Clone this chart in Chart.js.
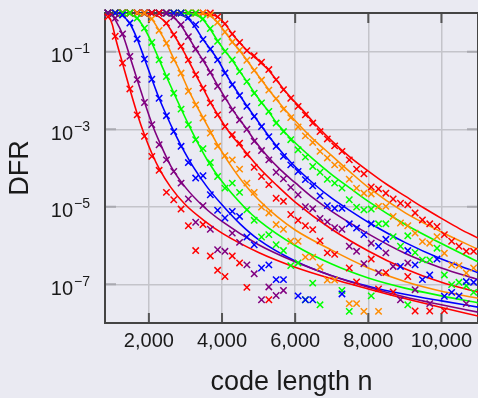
<!DOCTYPE html>
<html>
<head>
<meta charset="utf-8">
<script src="https://cdn.jsdelivr.net/npm/chart.js@4.4.0/dist/chart.umd.min.js"></script>
<style>
  html, body { margin: 0; padding: 0; overflow: hidden; background: #eaeaf2; width: 478px; height: 398px; }
  #dfrChart { position: absolute; left: 0; top: 0; }
</style>
</head>
<body>
<canvas id="dfrChart" width="484" height="398"></canvas>
<script>
const _ = null;
const FONT = '"Liberation Sans", Arial, sans-serif';

const codeLengths = [880, 1080, 1280, 1480, 1680, 1880, 2080, 2280, 2480, 2680,
  2880, 3080, 3280, 3480, 3680, 3880, 4080, 4280, 4480, 4680,
  4880, 5080, 5280, 5480, 5680, 5880, 6080, 6280, 6480, 6680,
  6880, 7080, 7280, 7480, 7680, 7880, 8080, 8280, 8480, 8680,
  8880, 9080, 9280, 9480, 9680, 9880, 10080, 10280, 10480, 10680,
  10880];
const xTicks = [2000, 4000, 6000, 8000, 10000];
const yTickExps = [-1, -3, -5, -7];
const colors = ['#ff0000', '#800080', '#0000ff', '#00ff00', '#ff8c00'];

// simulated DFR (log10), one entry per code length, null = no point
const sim1 = [-0.1, -0.6, -1.29, -1.96, -2.63, -3.18, -3.7, -4.06, -4.63, -4.82,
  -5.06, -5.49, -6.13, -5.46, -6.27, -6.64, -6.8, -6.27, -6.45, -7.08,
  _, _, -7.4];
const sim2 = [0, -0.13, -0.54, -1.12, -1.72, -2.31, -2.88, -3.4, -3.79, -4.09,
  -4.39, -4.8, -5.4, -4.97, -5.58, -6.11, -6.15, -5.68, -5.92, -6.5,
  -6.73, -7.4, -7.07, -7.29, -7.16];
const sim3 = [0, 0, -0.05, -0.26, -0.67, -1.19, -1.71, -2.2, -2.65, -3.06,
  -3.44, -3.86, -4.26, -4.2, -4.69, -5.09, -5.29, -5.12, -5.25, -5.78,
  -5.98, -6.58, -6.5, -6.88, -6.88, _, -7.3, -7.4, -7.4, _,
  _, _, -7.25];
const sim4 = [0, 0, 0, 0, -0.13, -0.39, -0.76, -1.21, -1.64, -2.07,
  -2.48, -2.88, -3.27, -3.5, -3.86, -4.22, -4.52, -4.39, -4.63, -5.08,
  -5.35, -5.78, -5.72, -5.98, -6.13, -6.52, -6.45, -7.4, -6.97, -7.53,
  _, _, -7.16, -7.7, _, _, -7.3, _, _, _,
  _, -7.53];
const sim5 = [0, 0, 0, 0, 0, 0, -0.15, -0.45, -0.78, -1.21,
  -1.55, -2.02, -2.37, -2.71, -3.1, -3.44, -3.68, -3.79, -4.03, -4.39,
  -4.63, -5.01, -5.16, -5.46, -5.58, -5.89, -5.89, -6.3, -6.3, -6.56,
  -6.89, -6.89, _, -7.5, -7.5, -7.7, _, -7.7];
const sim6 = [0, 0, 0, 0, 0, 0, 0, 0, -0.26, -0.56,
  -0.86, -1.21, -1.59, -1.94, -2.32, -2.63, -2.93, -3.14, -3.36, -3.65,
  -3.98, -4.22, -4.43, -4.78, -4.86, -5.2, -5.35, -5.49, -5.59, -5.88,
  -6.19, -6.23, _, -6.58, -6.94, _, -6.35, -7.12, -6.7, -7.2,
  _, -6.8, -7.69, _, -7.69, _, -7.68];
const sim7 = [0, 0, 0, 0, 0, 0, 0, 0, 0, -0.1,
  -0.3, -0.61, -0.93, -1.21, -1.53, -1.89, -2.2, -2.5, -2.76, -3.0,
  -3.31, -3.55, -3.79, -4.11, -4.28, -4.5, -4.69, -5.0, -5.05, -5.3,
  -5.39, -5.54, -5.58, -6.02, -6.15, -6.47, -5.94, -6.7, -6.19, -6.54,
  -7.4, -6.45, -7.14, _, -7.5, _, _, _, _, -7.5];
const sim8 = [0, 0, 0, 0, 0, 0, 0, 0, 0, 0,
  0, -0.12, -0.3, -0.68, -0.93, -1.21, -1.55, -1.85, -2.13, -2.41,
  -2.67, -2.93, -3.19, -3.44, -3.7, -3.92, -4.09, -4.3, -4.46, -4.72,
  -4.97, -5.04, -5.04, -5.44, -5.55, -5.72, -5.44, -6.02, -5.84, _,
  -6.54, -6.13, -6.5, -6.88, -6.76, -6.35, -7.31, -7.21, -7.3, -6.93,
  -6.95];
const sim9 = [0, 0, 0, 0, 0, 0, 0, 0, 0, 0,
  0, 0, 0, -0.15, -0.4, -0.73, -0.99, -1.21, -1.51, -1.77,
  -2.07, -2.32, -2.54, -2.84, -3.06, -3.27, -3.53, -3.72, -3.96, -4.11,
  -4.29, -4.39, -4.52, -4.82, -5.01, -5.08, -5.06, -5.44, -5.44, -5.77,
  -6.02, -5.75, -6.18, -6.37, -6.37, -6.07, -6.76, -7.01, -6.95, -7.04,
  -7.21];
const sim10 = [0, 0, 0, 0, 0, 0, 0, 0, 0, 0,
  0, 0, 0, 0, -0.05, -0.24, -0.49, -0.75, -0.96, -1.22,
  -1.48, -1.73, -1.99, -2.21, -2.48, -2.7, -2.94, -3.17, -3.34, -3.57,
  -3.74, -3.92, -4.0, -4.29, -4.52, -4.65, -4.67, -4.99, -4.99, -5.25,
  -5.42, -5.49, -5.68, -5.9, -5.94, -5.77, -6.2, -6.5, -6.52, -6.71,
  -6.58];
const sim11 = [0, 0, 0, 0, 0, 0, 0, 0, 0, 0,
  0, 0, 0, 0, 0, -0.1, -0.28, -0.54, -0.76, -0.97,
  -1.1, -1.27, -1.46, -1.72, -1.98, -2.2, -2.41, -2.63, -2.84, -3.06,
  -3.25, -3.43, -3.57, -3.79, -4.03, -4.15, -4.49, -4.54, -4.65, -4.8,
  -4.91, -4.95, -5.16, -5.34, -5.44, -5.51, -5.72, -5.89, -6.02, -6.15,
  -6.15];

// fitted curves, [code length, log10 DFR]
const fit1 = [[860, 0], [1000, -0.3], [1080, -0.62], [1280, -1.3], [1480, -1.97], [1680, -2.6], [1880, -3.15], [2080, -3.62], [2300, -4.05], [2600, -4.5], [3000, -4.95], [3500, -5.35], [4000, -5.68], [5000, -6.18], [6000, -6.56], [7000, -6.86], [8000, -7.12], [9000, -7.37], [10000, -7.6], [11000, -7.82]];
const fit2 = [[960, 0], [1080, -0.18], [1280, -0.55], [1480, -1.12], [1680, -1.72], [1880, -2.3], [2080, -2.85], [2300, -3.35], [2600, -3.95], [3000, -4.5], [3500, -5.0], [4000, -5.38], [5000, -5.98], [6000, -6.42], [7000, -6.78], [8000, -7.08], [9000, -7.33], [10000, -7.53], [11000, -7.72]];
const fit3 = [[1150, 0], [1280, -0.07], [1480, -0.27], [1680, -0.67], [1880, -1.18], [2080, -1.7], [2280, -2.2], [2480, -2.64], [2680, -3.05], [2880, -3.42], [3200, -3.95], [3600, -4.5], [4000, -4.95], [4500, -5.45], [5000, -5.85], [6000, -6.4], [7000, -6.78], [8000, -7.05], [9000, -7.26], [10000, -7.43], [11000, -7.59]];
const fit4 = [[1350, 0], [1480, -0.03], [1680, -0.14], [1880, -0.4], [2080, -0.77], [2280, -1.2], [2480, -1.64], [2680, -2.06], [2880, -2.47], [3080, -2.87], [3280, -3.25], [3600, -3.8], [4000, -4.35], [4600, -5.0], [5000, -5.35], [6000, -6.0], [7000, -6.48], [8000, -6.84], [9000, -7.1], [10000, -7.3], [11000, -7.48]];
const fit5 = [[1650, 0], [1880, -0.04], [2080, -0.16], [2280, -0.45], [2480, -0.78], [2680, -1.18], [2880, -1.56], [3080, -1.98], [3280, -2.35], [3480, -2.7], [3680, -3.05], [3880, -3.4], [4200, -3.88], [4600, -4.4], [5000, -4.82], [5500, -5.25], [6000, -5.6], [7000, -6.12], [8000, -6.58], [9000, -6.93], [10000, -7.18], [11000, -7.36]];
const fit6 = [[1950, 0], [2080, -0.03], [2280, -0.1], [2480, -0.27], [2680, -0.56], [2880, -0.87], [3080, -1.22], [3280, -1.59], [3480, -1.94], [3680, -2.3], [3880, -2.62], [4080, -2.92], [4280, -3.18], [4480, -3.4], [5000, -3.98], [5500, -4.45], [6000, -4.88], [7000, -5.58], [8000, -6.14], [9000, -6.6], [10000, -6.95], [11000, -7.2]];
const fit7 = [[2250, 0], [2480, -0.03], [2680, -0.12], [2880, -0.32], [3080, -0.62], [3280, -0.93], [3480, -1.22], [3680, -1.53], [3880, -1.87], [4080, -2.18], [4280, -2.48], [4480, -2.75], [4680, -3.0], [4880, -3.28], [5200, -3.65], [5600, -4.05], [6000, -4.38], [6500, -4.78], [7000, -5.12], [8000, -5.7], [9000, -6.2], [10000, -6.58], [11000, -6.88]];
const fit8 = [[2500, 0], [2880, -0.05], [3080, -0.15], [3280, -0.38], [3480, -0.68], [3680, -0.93], [3880, -1.2], [4080, -1.53], [4280, -1.84], [4480, -2.12], [4680, -2.4], [4880, -2.66], [5080, -2.92], [5280, -3.18], [5480, -3.42], [5880, -3.85], [6500, -4.4], [7000, -4.78], [7500, -5.1], [8000, -5.4], [9000, -5.92], [10000, -6.35], [11000, -6.7]];
const fit9 = [[2850, 0], [3280, -0.05], [3480, -0.17], [3680, -0.42], [3880, -0.72], [4080, -0.98], [4280, -1.22], [4480, -1.5], [4680, -1.77], [4880, -2.05], [5080, -2.31], [5280, -2.55], [5480, -2.82], [5680, -3.04], [5880, -3.24], [6500, -3.78], [7000, -4.17], [7500, -4.52], [8000, -4.86], [9000, -5.45], [10000, -5.95], [11000, -6.42]];
const fit10 = [[3100, 0], [3480, -0.03], [3680, -0.08], [3880, -0.25], [4080, -0.49], [4280, -0.74], [4480, -0.97], [4680, -1.22], [4880, -1.48], [5080, -1.73], [5280, -1.98], [5480, -2.22], [5680, -2.45], [5880, -2.66], [6200, -2.98], [6500, -3.26], [7000, -3.68], [7500, -4.1], [8000, -4.5], [9000, -5.15], [10000, -5.65], [11000, -6.1]];
const fit11 = [[3350, 0], [3680, -0.03], [3880, -0.1], [4080, -0.28], [4280, -0.54], [4480, -0.76], [4680, -0.96], [4880, -1.13], [5080, -1.3], [5280, -1.48], [5480, -1.72], [5680, -1.96], [5880, -2.18], [6200, -2.5], [6500, -2.82], [7000, -3.3], [7500, -3.72], [8000, -4.08], [8500, -4.42], [9000, -4.72], [9500, -5.02], [10000, -5.3], [10500, -5.57], [11000, -5.81]];

const simSets = [sim1, sim2, sim3, sim4, sim5, sim6, sim7, sim8, sim9, sim10, sim11];
const fitSets = [fit1, fit2, fit3, fit4, fit5, fit6, fit7, fit8, fit9, fit10, fit11];

const datasets = [];
simSets.forEach((s, i) => {
  const c = colors[i % colors.length];
  const pts = [];
  codeLengths.forEach((n, k) => {
    if (s[k] != null) pts.push({ x: n, y: 10 ** s[k] });
  });
  datasets.push({
    data: pts,
    showLine: false,
    pointStyle: 'crossRot',
    pointRadius: 4.5,
    pointBorderWidth: 1.5,
    borderColor: c,
    backgroundColor: c,
    clip: false
  });
});
fitSets.forEach((f, i) => {
  const c = colors[i % colors.length];
  datasets.push({
    data: f.map(p => ({ x: p[0], y: 10 ** p[1] })),
    showLine: true,
    pointRadius: 0,
    borderWidth: 1.6,
    borderColor: c,
    cubicInterpolationMode: 'monotone',
    fill: false
  });
});

// frame, inward ticks and 10^x labels
const framePlugin = {
  id: 'frame',
  beforeDatasetsDraw(chart) {
    const { ctx, chartArea: a, scales: { x, y } } = chart;
    ctx.save();
    ctx.lineWidth = 2;
    ctx.strokeStyle = '#a9a9b0';
    yTickExps.forEach(e => {
      const py = y.getPixelForValue(10 ** e);
      ctx.beginPath();
      ctx.moveTo(a.left, py); ctx.lineTo(a.left + 11, py);
      ctx.moveTo(a.right - 11, py); ctx.lineTo(a.right, py);
      ctx.stroke();
    });
    ctx.strokeStyle = '#555555';
    xTicks.forEach(v => {
      const px = x.getPixelForValue(v);
      ctx.beginPath();
      ctx.moveTo(px, a.top); ctx.lineTo(px, a.top + 10);
      ctx.moveTo(px, a.bottom); ctx.lineTo(px, a.bottom - 10);
      ctx.stroke();
    });
    ctx.strokeStyle = '#444444';
    ctx.strokeRect(a.left, a.top, a.right - a.left, a.bottom - a.top);
    ctx.restore();
  },
  afterDraw(chart) {
    const { ctx, chartArea: a, scales: { y } } = chart;
    ctx.save();
    ctx.fillStyle = '#1a1a1a';
    ctx.textBaseline = 'alphabetic';
    yTickExps.forEach(e => {
      const py = y.getPixelForValue(10 ** e);
      ctx.font = '20px ' + FONT;
      ctx.textAlign = 'right';
      ctx.fillText('10', a.left - 32, py + 10.5);
      ctx.font = '14px ' + FONT;
      ctx.textAlign = 'left';
      ctx.fillText('\u2212' + Math.abs(e), a.left - 31, py + 1.5);
    });
    ctx.restore();
  }
};

new Chart(document.getElementById('dfrChart'), {
  type: 'scatter',
  data: { datasets },
  options: {
    responsive: false,
    animation: false,
    layout: { padding: { top: 13, right: 1, left: 0, bottom: 0 } },
    plugins: { legend: { display: false }, tooltip: { enabled: false } },
    scales: {
      x: {
        type: 'linear',
        min: 800,
        max: 11000,
        afterBuildTicks: s => { s.ticks = xTicks.map(v => ({ value: v })); },
        afterFit: s => { s.height = 75; s.paddingLeft = 0; s.paddingRight = 0; },
        grid: { color: '#c4c4ca', lineWidth: 1.5, drawTicks: false },
        border: { display: false },
        ticks: {
          font: { size: 20, family: FONT },
          color: '#1a1a1a',
          padding: 6,
          maxRotation: 0,
          callback: v => v.toLocaleString('en-US')
        },
        title: {
          display: true,
          text: 'code length n',
          color: '#1a1a1a',
          font: { size: 27, family: FONT, lineHeight: 1 },
          padding: { top: 0, bottom: 2 }
        }
      },
      y: {
        type: 'logarithmic',
        min: 1e-8,
        max: 1,
        afterBuildTicks: s => { s.ticks = yTickExps.map(e => ({ value: 10 ** e })); },
        afterFit: s => { s.width = 105; },
        grid: { color: '#c4c4ca', lineWidth: 1.5, drawTicks: false },
        border: { display: false },
        ticks: { display: false },
        title: {
          display: true,
          text: 'DFR',
          color: '#1a1a1a',
          font: { size: 27, family: FONT, lineHeight: 1 },
          padding: { top: 7 }
        }
      }
    }
  },
  plugins: [framePlugin]
});
</script>
</body>
</html>
